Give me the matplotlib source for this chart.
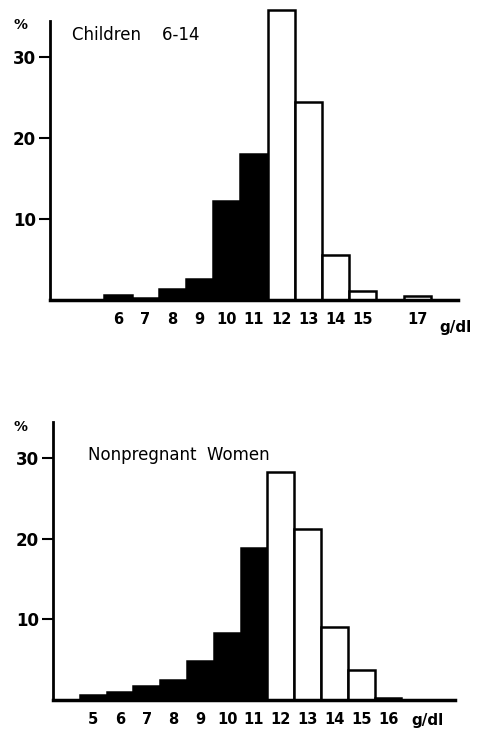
import matplotlib
matplotlib.use("Agg")
import matplotlib.pyplot as plt
import numpy as np

# Haemoglobin classes (g/dl), one bar per class
hb_classes = [4, 5, 6, 7, 8, 9, 10, 11, 12, 13, 14, 15, 16, 17, 18]

# % of subjects per class
children_pct = [0, 0, 0.6, 0.3, 1.4, 2.6, 12.2, 18.0, 35.8, 24.5, 5.6, 1.1, 0, 0.5, 0]
women_pct = [0, 0.6, 1.0, 1.7, 2.5, 4.8, 8.3, 18.8, 28.2, 21.2, 9.0, 3.7, 0.3, 0, 0]

children_labels = [6, 7, 8, 9, 10, 11, 12, 13, 14, 15, 17]
women_labels = [5, 6, 7, 8, 9, 10, 11, 12, 13, 14, 15, 16]

y_ticks = [10, 20, 30]
ANAEMIA_CUT = 12  # classes below this are drawn black

W, H = 478, 730
fig = plt.figure(figsize=(W / 100, H / 100), dpi=100)


def px_axes(left, right, base, top):
    # axes box from pixel positions (image coords, y down)
    return fig.add_axes([left / W, 1 - base / H, (right - left) / W, (base - top) / H])


def panel(ax, values, labels, title, title_xy):
    colors = ["black" if c < ANAEMIA_CUT else "white" for c in hb_classes]
    ax.bar(hb_classes, values, width=1.0, color=colors, edgecolor="black",
           linewidth=1.8, zorder=2)
    ax.set_xlim(3.5, 18.5)
    ax.set_ylim(0, 36.5)
    for s in ("top", "right"):
        ax.spines[s].set_visible(False)
    ax.spines["left"].set_linewidth(2.0)
    ax.spines["left"].set_bounds(0, 34.5)
    ax.spines["bottom"].set_linewidth(2.5)
    ax.spines["bottom"].set_zorder(3)
    ax.set_yticks(y_ticks)
    ax.set_yticklabels([str(t) for t in y_ticks], fontsize=12, fontweight="bold")
    ax.tick_params(axis="y", length=8, width=1.5, pad=2)
    ax.set_xticks(labels)
    ax.set_xticklabels([str(v) for v in labels], fontsize=10.5, fontweight="bold")
    ax.tick_params(axis="x", length=0, pad=9)
    ax.text(title_xy[0], title_xy[1], title, fontsize=12, fontweight="medium",
            va="center", ha="left")
    ax.patch.set_alpha(0)


ax1 = px_axes(50, 458, 300, 300 - 36.5 * 8.1)
panel(ax1, children_pct, children_labels, "Children    6-14", (4.3, 32.7))
fig.text(20 / W, 1 - 25 / H, "%", fontsize=10, fontweight="bold", ha="center", va="center")
fig.text(455 / W, 1 - 328 / H, "g/dl", fontsize=11, fontweight="bold", ha="center", va="center")

ax2 = px_axes(53, 455, 700, 700 - 36.5 * 8.07)
panel(ax2, women_pct, women_labels, "Nonpregnant  Women", (4.8, 30.4))
fig.text(20 / W, 1 - 427 / H, "%", fontsize=10, fontweight="bold", ha="center", va="center")
fig.text(428 / W, 1 - 720 / H, "g/dl", fontsize=11, fontweight="bold", ha="center", va="center")

fig.savefig("out.png", dpi=100)
